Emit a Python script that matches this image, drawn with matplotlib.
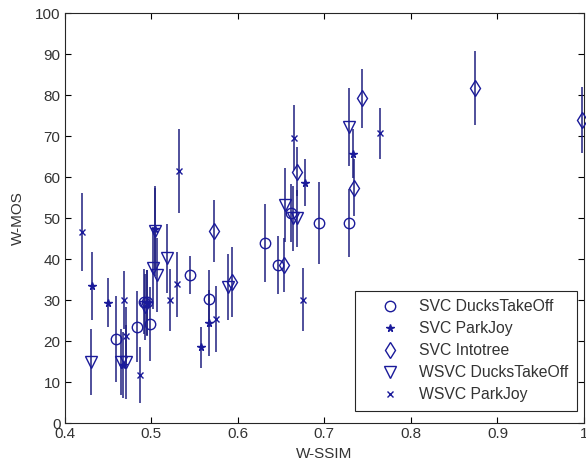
import matplotlib
matplotlib.use("Agg")
import matplotlib.pyplot as plt
from matplotlib.lines import Line2D

plt.rcParams['font.family'] = ['Liberation Sans', 'DejaVu Sans']

# SVC DucksTakeOff
svc_ducks_x = [0.459, 0.483, 0.492, 0.495, 0.499, 0.545, 0.567, 0.632, 0.647, 0.661, 0.694, 0.729]
svc_ducks_y = [20.6, 23.6, 29.7, 29.5, 24.2, 36.2, 30.4, 43.9, 38.6, 51.3, 48.9, 48.9]
svc_ducks_e = [10.5, 8.7, 8.0, 8.0, 9.0, 4.7, 7.0, 9.5, 7.0, 7.0, 10.0, 8.3]

# SVC ParkJoy
svc_park_x = [0.432, 0.450, 0.467, 0.4955, 0.504, 0.558, 0.567, 0.678, 0.733]
svc_park_y = [33.5, 29.4, 14.2, 29.3, 47.5, 18.5, 24.5, 58.7, 65.8]
svc_park_e = [8.3, 6.0, 8.0, 8.0, 10.0, 5.0, 8.0, 5.7, 6.0]

# SVC Intotree
svc_tree_x = [0.572, 0.593, 0.653, 0.668, 0.734, 0.743, 0.874, 0.998]
svc_tree_y = [46.9, 34.5, 38.6, 61.4, 57.5, 79.3, 81.7, 74.0]
svc_tree_e = [7.5, 8.5, 6.5, 6.0, 7.0, 7.2, 9.0, 8.0]

# WSVC DucksTakeOff
wsvc_ducks_x = [0.4305, 0.465, 0.471, 0.493, 0.504, 0.5025, 0.507, 0.518, 0.589, 0.6545, 0.664, 0.668, 0.729]
wsvc_ducks_y = [15.0, 15.0, 15.0, 28.3, 47.0, 37.8, 36.2, 40.2, 33.3, 53.2, 50.0, 50.0, 72.3]
wsvc_ducks_e = [8.0, 8.0, 9.0, 8.0, 11.0, 10.0, 9.0, 8.3, 8.0, 9.0, 8.0, 7.0, 9.5]

# WSVC ParkJoy
wsvc_park_x = [0.420, 0.468, 0.4705, 0.487, 0.522, 0.530, 0.532, 0.575, 0.6655, 0.675, 0.764]
wsvc_park_y = [46.7, 30.1, 21.3, 11.8, 30.1, 33.9, 61.6, 25.4, 69.7, 30.1, 70.7]
wsvc_park_e = [9.5, 7.0, 7.0, 6.9, 7.5, 8.0, 10.2, 8.0, 8.0, 7.7, 6.3]

labels = ["SVC DucksTakeOff", "SVC ParkJoy", "SVC Intotree",
          "WSVC DucksTakeOff", "WSVC ParkJoy"]
x_ticks = [0.4, 0.5, 0.6, 0.7, 0.8, 0.9, 1.0]
x_tick_labels = ["0.4", "0.5", "0.6", "0.7", "0.8", "0.9", "1"]
y_ticks = [0, 10, 20, 30, 40, 50, 60, 70, 80, 90, 100]

bar_color = '#1f1f80'
mk_color = '#1a1a9a'
txt_color = '#333333'

fig = plt.figure(figsize=(5.86, 4.69), dpi=100)
ax = fig.add_axes([0.1104, 0.0974, 0.8862, 0.8742])

series = [
    (svc_ducks_x, svc_ducks_y, svc_ducks_e, 'o', 7.5, 'none'),
    (svc_park_x, svc_park_y, svc_park_e, '*', 5.5, mk_color),
    (svc_tree_x, svc_tree_y, svc_tree_e, 'd', 8, 'none'),
    (wsvc_ducks_x, wsvc_ducks_y, wsvc_ducks_e, 'v', 8, 'none'),
    (wsvc_park_x, wsvc_park_y, wsvc_park_e, 'x', 4.5, 'none'),
]

handles = []
for (xs, ys, es, m, ms, fc), lab in zip(series, labels):
    ax.errorbar(xs, ys, yerr=es, fmt='none', ecolor=bar_color, elinewidth=1.1,
                capsize=0, zorder=2, clip_on=False)
    ax.plot(xs, ys, linestyle='none', marker=m, markersize=ms,
            markerfacecolor=fc, markeredgecolor=mk_color, markeredgewidth=1.0,
            zorder=3, clip_on=False)
    handles.append(Line2D([], [], linestyle='none', marker=m, markersize=ms,
                          markerfacecolor=fc, markeredgecolor=mk_color,
                          markeredgewidth=1.0, label=lab))

ax.set_xlim(0.4, 1.0)
ax.set_ylim(0, 100)
ax.set_xticks(x_ticks)
ax.set_xticklabels(x_tick_labels)
ax.set_yticks(y_ticks)
ax.tick_params(direction='in', top=True, right=True, labelsize=11,
               labelcolor=txt_color, length=4, width=0.8, pad=3)
for sp in ax.spines.values():
    sp.set_color('#262626')
    sp.set_linewidth(0.8)

ax.set_xlabel('W-SSIM', fontsize=11, color=txt_color, labelpad=4)
ax.set_ylabel('W-MOS', fontsize=11, color=txt_color, labelpad=7)

leg = ax.legend(handles=handles, loc='lower right', bbox_to_anchor=(0.986, 0.030),
                fontsize=11.3, frameon=True, fancybox=False, edgecolor='#262626',
                framealpha=1, borderpad=0.55, handlelength=3.4, handletextpad=0.15,
                labelspacing=0.45, borderaxespad=0)
leg.get_frame().set_linewidth(0.8)
for t in leg.get_texts():
    t.set_color(txt_color)

fig.savefig('out.png', dpi=100)
